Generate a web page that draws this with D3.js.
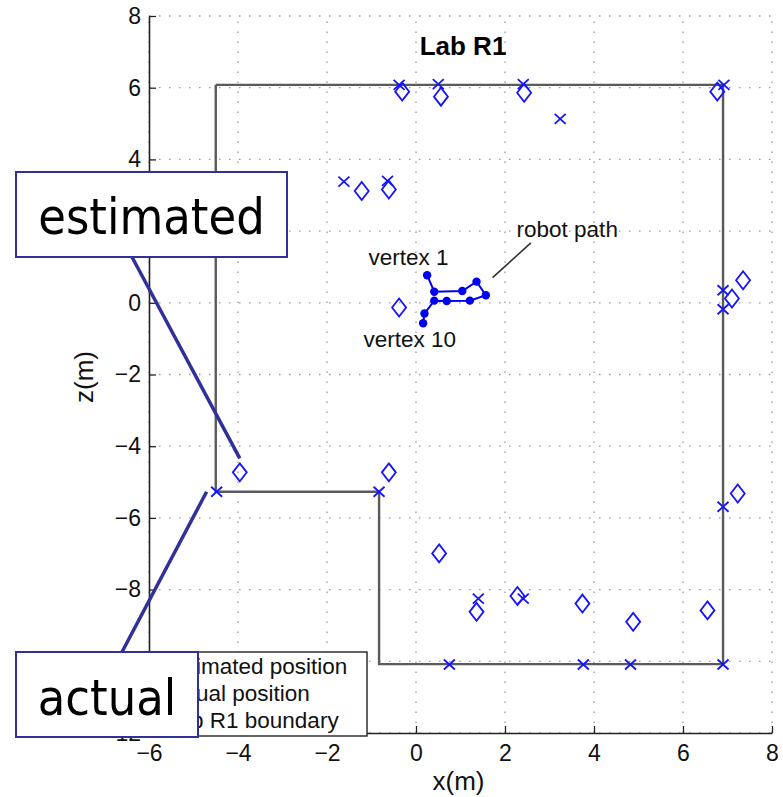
<!DOCTYPE html>
<html>
<head>
<meta charset="utf-8">
<script src="https://cdn.jsdelivr.net/npm/d3@7"></script>
<style>
  body { margin: 0; background: #fff; }
  svg { display: block; font-family: "Liberation Sans", Arial, Helvetica, sans-serif; }
</style>
</head>
<body>
<div id="chart"></div>
<script>
// Lab R1 — geschätzte vs. tatsächliche Landmarken + Roboterpfad

// --- Daten (x, z in m) ---
const xTicks = [-6, -4, -2, 0, 2, 4, 6, 8];
const yTicks = [-12, -10, -8, -6, -4, -2, 0, 2, 4, 6, 8];

const labBoundary = [
  [-4.5, 6.08], [6.9, 6.08], [6.9, -10.08], [-0.83, -10.08],
  [-0.83, -5.27], [-4.5, -5.27], [-4.5, 6.08]
];

const actualPos = [
  [-0.38, 6.08], [0.50, 6.10], [2.41, 6.10], [6.92, 6.08], [3.24, 5.13],
  [-1.62, 3.38], [-0.64, 3.40], [6.90, 0.35], [6.90, -0.18], [6.90, -5.69],
  [-4.48, -5.27], [-0.83, -5.27], [1.40, -8.25], [2.41, -8.25],
  [0.75, -10.09], [3.76, -10.09], [4.82, -10.09], [6.90, -10.09]
];

const estimatedPos = [
  [-0.31, 5.89], [0.56, 5.75], [2.43, 5.86], [6.77, 5.89],
  [-1.22, 3.12], [-0.61, 3.16], [-0.38, -0.13], [7.35, 0.63], [7.10, 0.12],
  [-3.96, -4.73], [-0.61, -4.73], [7.23, -5.32], [0.52, -6.99],
  [1.36, -8.62], [2.28, -8.18], [3.74, -8.39], [4.88, -8.90], [6.55, -8.58]
];

const robotPath = [
  [0.25, 0.77], [0.41, 0.31], [1.04, 0.33], [1.36, 0.59], [1.57, 0.21],
  [1.21, 0.06], [0.69, 0.05], [0.41, 0.06], [0.19, -0.30], [0.16, -0.57]
];

const legendLabels = ["estimated position", "actual position", "Lab R1 boundary"];

// Beschriftungen im Plot (Datenkoordinaten)
const notes = [
  { text: "vertex 1",   x: -1.07, y: 1.05 },
  { text: "vertex 10",  x: -1.18, y: -1.23 },
  { text: "robot path", x: 2.26,  y: 1.84 }
];
const pathPointer = [[1.72, 0.70], [2.58, 1.67]];

// --- Layout ---
const W = 783, H = 797;
const P = { left: 149, right: 772, top: 16, bottom: 733 };
const BLUE = "#1414ff", AX = "#222";

const svg = d3.select("#chart").append("svg").attr("width", W).attr("height", H);

const x = d3.scaleLinear().domain([-6, 8]).range([P.left, P.right]);
const y = d3.scaleLinear().domain([-12, 8]).range([P.bottom, P.top]);

// Gitter (gepunktet)
const grid = svg.append("g").attr("stroke", "#9a9a9a").attr("stroke-width", 1.3)
  .attr("stroke-dasharray", "1.5,8.5");
grid.selectAll("line.gx").data(xTicks).join("line").attr("class", "gx")
  .attr("x1", d => x(d)).attr("x2", d => x(d)).attr("y1", P.bottom).attr("y2", P.top);
grid.selectAll("line.gy").data(yTicks).join("line").attr("class", "gy")
  .attr("y1", d => y(d)).attr("y2", d => y(d)).attr("x1", P.left).attr("x2", P.right);

// Lab-Grenze
const line = d3.line().x(d => x(d[0])).y(d => y(d[1]));
svg.append("path").datum(labBoundary)
  .attr("d", line).attr("fill", "none").attr("stroke", "#5a5a5a").attr("stroke-width", 2.4);

// Marker
const diamond = (w, h) => `M0,${-h}L${w},0L0,${h}L${-w},0Z`;
const cross = (s, t) => `M${-s},${-t}L${s},${t}M${-s},${t}L${s},${-t}`;

svg.append("g").selectAll("path").data(estimatedPos).join("path")
  .attr("transform", d => `translate(${x(d[0])},${y(d[1])})`)
  .attr("d", diamond(7, 9)).attr("fill", "none").attr("stroke", BLUE).attr("stroke-width", 1.8);

svg.append("g").selectAll("path").data(actualPos).join("path")
  .attr("transform", d => `translate(${x(d[0])},${y(d[1])})`)
  .attr("d", cross(5.5, 5)).attr("fill", "none").attr("stroke", BLUE).attr("stroke-width", 1.8);

// Roboterpfad
svg.append("path").datum(robotPath)
  .attr("d", line).attr("fill", "none").attr("stroke", "#0000f0").attr("stroke-width", 2);
svg.append("g").selectAll("circle").data(robotPath).join("circle")
  .attr("cx", d => x(d[0])).attr("cy", d => y(d[1])).attr("r", 4.2).attr("fill", "#0000f0");

// Textnotizen
svg.append("g").selectAll("text").data(notes).join("text")
  .attr("x", d => x(d.x)).attr("y", d => y(d.y))
  .attr("font-size", 22.5).attr("fill", "#111").text(d => d.text);
svg.append("line")
  .attr("x1", x(pathPointer[0][0])).attr("y1", y(pathPointer[0][1]))
  .attr("x2", x(pathPointer[1][0])).attr("y2", y(pathPointer[1][1]))
  .attr("stroke", "#333").attr("stroke-width", 1.6);

// Achsen (Ticks nach innen)
const gx = svg.append("g").attr("transform", `translate(0,${P.bottom})`)
  .call(d3.axisBottom(x).tickValues(xTicks).tickSizeInner(-7).tickSizeOuter(0).tickPadding(12));
const gy = svg.append("g").attr("transform", `translate(${P.left},0)`)
  .call(d3.axisLeft(y).tickValues(yTicks).tickSizeInner(-7).tickSizeOuter(0).tickPadding(8));
[gx, gy].forEach(g => {
  g.select(".domain").attr("stroke", AX).attr("stroke-width", 1.6);
  g.selectAll(".tick line").attr("stroke", AX).attr("stroke-width", 1.3);
  g.selectAll(".tick text").attr("font-size", 23).attr("fill", "#111")
    .attr("font-family", "Liberation Sans, Arial, sans-serif");
});

// Titel + Achsentitel
svg.append("text").attr("x", 463).attr("y", 55).attr("text-anchor", "middle")
  .attr("font-size", 26).attr("font-weight", 700).attr("fill", "#000").text("Lab R1");
svg.append("text").attr("x", (P.left + P.right) / 2 - 2).attr("y", 790).attr("text-anchor", "middle")
  .attr("font-size", 26).attr("fill", "#111").text("x(m)");
svg.append("text").attr("transform", "translate(93,377) rotate(-90)").attr("text-anchor", "middle")
  .attr("font-size", 26).attr("fill", "#111").text("z(m)");

// Legende
const lg = svg.append("g").attr("transform", "translate(100,652)");
lg.append("rect").attr("width", 267).attr("height", 84).attr("fill", "#fff")
  .attr("stroke", AX).attr("stroke-width", 1.4);
const rows = lg.selectAll("g").data(legendLabels).join("g")
  .attr("transform", (d, i) => `translate(0,${15 + i * 27})`);
rows.append("text").attr("x", 66).attr("y", 7).attr("font-size", 22.5).attr("fill", "#111").text(d => d);
rows.each(function(d, i) {
  const r = d3.select(this);
  if (i === 0) r.append("path").attr("transform", "translate(36,0)").attr("d", diamond(7, 9))
    .attr("fill", "none").attr("stroke", BLUE).attr("stroke-width", 1.8);
  if (i === 1) r.append("path").attr("transform", "translate(36,0)").attr("d", cross(5.5, 5))
    .attr("fill", "none").attr("stroke", BLUE).attr("stroke-width", 1.8);
  if (i === 2) r.append("line").attr("x1", 10).attr("x2", 60)
    .attr("stroke", "#5a5a5a").attr("stroke-width", 2.4);
});

// Callouts (Folien-Overlay), Zeiger auf Datenpunkte
const NAVY = "#30309a";
const est = estimatedPos[9], act = actualPos[10];
svg.append("line").attr("x1", 132).attr("y1", 257)
  .attr("x2", x(est[0])).attr("y2", y(est[1]) - 14)
  .attr("stroke", NAVY).attr("stroke-width", 3.5);
svg.append("line").attr("x1", 122).attr("y1", 652)
  .attr("x2", x(act[0]) - 10).attr("y2", y(act[1]))
  .attr("stroke", NAVY).attr("stroke-width", 3.5);

const callouts = [
  { text: "estimated", x: 16, y: 172, w: 271, h: 85, base: 234 },
  { text: "actual",    x: 16, y: 652, w: 182, h: 85, base: 715 }
];
const cg = svg.append("g").selectAll("g").data(callouts).join("g");
cg.append("rect").attr("x", d => d.x).attr("y", d => d.y).attr("width", d => d.w).attr("height", d => d.h)
  .attr("fill", "#fff").attr("stroke", NAVY).attr("stroke-width", 2);
cg.append("text").attr("x", d => d.x + d.w / 2).attr("y", d => d.base).attr("text-anchor", "middle")
  .attr("font-family", "'DejaVu Sans Condensed', 'DejaVu Sans', sans-serif")
  .style("font-stretch", "condensed")
  .attr("font-size", 50).attr("fill", "#000").text(d => d.text);
</script>
</body>
</html>
